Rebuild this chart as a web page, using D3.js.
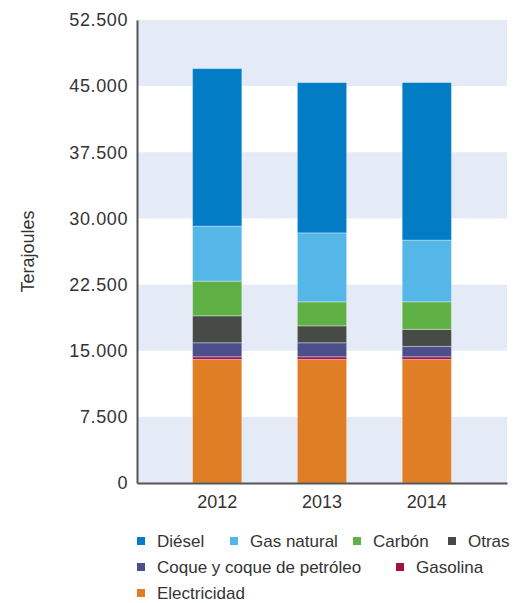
<!DOCTYPE html>
<html>
<head>
<meta charset="utf-8">
<script src="https://cdn.jsdelivr.net/npm/d3@7"></script>
<style>
  html, body { margin: 0; padding: 0; background: #fff; }
  svg { display: block; font-family: "Liberation Sans", Arial, sans-serif; }
</style>
</head>
<body>
<svg id="chart" width="517" height="603"></svg>
<script>
// Energy consumption by source, terajoules
const years = ["2012", "2013", "2014"];
const series = ["Electricidad", "Gasolina", "Coque y coque de petróleo", "Otras", "Carbón", "Gas natural", "Diésel"];
const electricidad = [14000, 14000, 14000];
const gasolina = [310, 310, 310];
const coque = [1590, 1590, 1180];
const otras = [3060, 1920, 1930];
const carbon = [3930, 2720, 3130];
const gasNatural = [6230, 7820, 6990];
const diesel = [17870, 17040, 17870];
const yTicks = [0, 7500, 15000, 22500, 30000, 37500, 45000, 52500];
const colors = ["#e07e26", "#a8123e", "#4c4f8c", "#474b45", "#5fb045", "#55b7e8", "#027cc4"];
const legendRows = [
  ["Diésel", "Gas natural", "Carbón", "Otras"],
  ["Coque y coque de petróleo", "Gasolina"],
  ["Electricidad"]
];

const valuesBySeries = [electricidad, gasolina, coque, otras, carbon, gasNatural, diesel];
const table = years.map((yr, i) => {
  const row = { year: yr };
  series.forEach((s, k) => { row[s] = valuesBySeries[k][i]; });
  return row;
});

const svg = d3.select("#chart");
const plot = { left: 137, right: 507, top: 20, bottom: 483 };

const x = d3.scaleBand().domain(years).range([plot.left, plot.right]).paddingInner(0.53).paddingOuter(0.53);
const y = d3.scaleLinear().domain([0, 52500]).range([plot.bottom, plot.top]);
const color = d3.scaleOrdinal().domain(series).range(colors);

// alternating horizontal bands
const bands = d3.range(0, yTicks.length - 1).filter(i => i % 2 === 0);
svg.append("g").selectAll("rect").data(bands).join("rect")
  .attr("x", plot.left).attr("width", plot.right - plot.left)
  .attr("y", i => y(yTicks[i + 1]))
  .attr("height", i => y(yTicks[i]) - y(yTicks[i + 1]))
  .attr("fill", "#e4ebf6");

// stacked bars
const stacked = d3.stack().keys(series)(table);
svg.append("g").selectAll("g").data(stacked).join("g")
  .attr("fill", d => color(d.key))
  .selectAll("rect").data(d => d).join("rect")
  .attr("x", d => x(d.data.year))
  .attr("width", x.bandwidth())
  .attr("y", d => y(d[1]))
  .attr("height", d => y(d[0]) - y(d[1]))
  .attr("stroke", "rgba(255,255,255,0.35)")
  .attr("stroke-width", 1);

// y axis
const yAxis = svg.append("g").attr("transform", `translate(${plot.left},0)`)
  .call(d3.axisLeft(y).tickValues(yTicks).tickSize(0).tickPadding(9)
    .tickFormat(d => d3.format(",")(d).replace(/,/g, ".")));
yAxis.select(".domain").attr("stroke", "#555").attr("stroke-width", 2);
yAxis.selectAll("text").attr("font-size", 18).attr("fill", "#333")
  .attr("font-family", "'Liberation Sans', Arial, sans-serif").style("letter-spacing", "0.6px");

// x axis
const xAxis = svg.append("g").attr("transform", `translate(0,${plot.bottom})`)
  .call(d3.axisBottom(x).tickSize(0).tickPadding(12));
xAxis.select(".domain").attr("stroke", "#555").attr("stroke-width", 2);
xAxis.selectAll("text").attr("font-size", 18).attr("fill", "#333")
  .attr("font-family", "'Liberation Sans', Arial, sans-serif");

// axis title
svg.append("text")
  .attr("transform", `translate(34,${(plot.top + plot.bottom) / 2}) rotate(-90)`)
  .attr("text-anchor", "middle")
  .attr("font-size", 18).attr("fill", "#333")
  .text("Terajoules");

// legend: three rows, items at fixed left offsets
const legend = svg.append("g");
const rowY = [541, 567, 593];
const itemX = [[137, 230, 353, 448], [137, 396], [137]];
legendRows.forEach((row, r) => {
  row.forEach((name, j) => {
    const g = legend.append("g").attr("transform", `translate(${itemX[r][j]},${rowY[r]})`);
    g.append("rect").attr("x", 0).attr("y", -4).attr("width", 8).attr("height", 8)
      .attr("fill", color(name));
    g.append("text").attr("x", 20).attr("y", 0).attr("dy", "0.35em")
      .attr("font-size", 17).attr("fill", "#333").text(name);
  });
});
</script>
</body>
</html>
